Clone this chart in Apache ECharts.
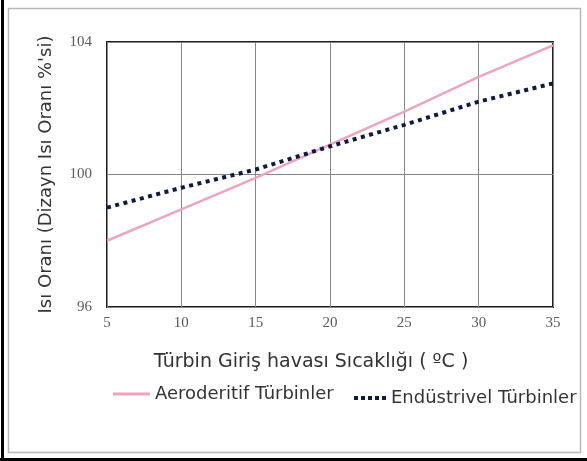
<!DOCTYPE html>
<html>
<head>
<meta charset="utf-8">
<script src="https://cdn.jsdelivr.net/npm/echarts@6/dist/echarts.min.js"></script>
<style>
  html, body { margin: 0; padding: 0; background: #fff; }
  #chart { width: 587px; height: 461px; }
</style>
</head>
<body>
<div id="chart"></div>
<script>
// sıcaklık (°C)
var temps = [5, 10, 15, 20, 25, 30, 35];
// Aeroderitif türbinler
var aeroValues = [98.0, 98.95, 99.9, 100.9, 101.9, 102.95, 103.9];
// Endüstrivel türbinler
var industrialValues = [99.0, 99.6, 100.15, 100.85, 101.5, 102.2, 102.75];
var yTicks = [96, 100, 104];

var aeroName = 'Aeroderitif Türbinler';
var industrialName = 'Endüstrivel Türbinler';

function pairs(xs, ys) {
  return xs.map(function (x, i) { return [x, ys[i]]; });
}

var myChart = echarts.init(document.getElementById('chart'));

var textFont = { fontFamily: 'DejaVu Sans', fontSize: 18, color: '#333' };

var option = {
  backgroundColor: '#fff',
  animation: false,
  grid: {
    left: 107, right: 34, top: 42, bottom: 154,
    show: true, borderColor: '#1e1e1e', borderWidth: 2
  },
  xAxis: {
    type: 'value', min: 5, max: 35, interval: 5,
    name: 'Türbin Giriş havası Sıcaklığı ( ºC )',
    nameLocation: 'middle', nameGap: 46,
    nameTextStyle: {
      fontFamily: 'DejaVu Sans', fontSize: 19, color: '#333',
      padding: [0, 38, 0, 0]
    },
    axisLine: { show: false },
    axisTick: { show: false },
    axisLabel: { fontFamily: 'Liberation Serif', fontSize: 15, color: '#5a5a5a', margin: 9 },
    splitLine: { lineStyle: { color: '#858590', width: 1 } }
  },
  yAxis: {
    type: 'value', min: 96, max: 104, interval: 4,
    name: 'Isı Oranı (Dizayn Isı Oranı %\'si)',
    nameLocation: 'middle', nameGap: 52,
    nameTextStyle: textFont,
    axisLine: { show: false },
    axisTick: { show: false },
    axisLabel: {
      fontFamily: 'Liberation Serif', fontSize: 15, color: '#5a5a5a', margin: 15,
      formatter: function (v) { return yTicks.indexOf(v) >= 0 ? String(v) : ''; }
    },
    splitLine: { lineStyle: { color: '#858590', width: 1 } }
  },
  legend: [
    {
      left: 108, top: 380,
      icon: 'rect', itemWidth: 37, itemHeight: 3, itemGap: 0,
      textStyle: textFont,
      data: [aeroName]
    },
    {
      left: 349, top: 384,
      icon: 'path://M0,0h4v4h-4z M7,0h4v4h-4z M14,0h4v4h-4z M21,0h4v4h-4z M28,0h4v4h-4z',
      itemWidth: 32, itemHeight: 4, itemGap: 0,
      textStyle: textFont,
      data: [industrialName]
    }
  ],
  series: [
    {
      name: aeroName, type: 'line',
      data: pairs(temps, aeroValues),
      showSymbol: false, symbol: 'none',
      lineStyle: { color: '#eba5bd', width: 2.5 },
      itemStyle: { color: '#eba5bd' }
    },
    {
      name: industrialName, type: 'line',
      data: pairs(temps, industrialValues),
      showSymbol: false, symbol: 'none',
      lineStyle: { color: '#101a3e', width: 4, type: [4, 4.5] },
      itemStyle: { color: '#101a3e' }
    }
  ],
  graphic: [
    {
      type: 'rect', silent: true, z: -1,
      shape: { x: 8.5, y: 8.5, width: 572, height: 444 },
      style: { fill: 'none', stroke: '#b8b8b8', lineWidth: 1.5 }
    },
    {
      type: 'line', silent: true,
      shape: { x1: 2.5, y1: 0, x2: 2.5, y2: 461 },
      style: { stroke: '#000', lineWidth: 3 }
    },
    {
      type: 'line', silent: true,
      shape: { x1: 0, y1: 459.5, x2: 587, y2: 459.5 },
      style: { stroke: '#000', lineWidth: 3 }
    }
  ]
};

myChart.setOption(option, true);
</script>
</body>
</html>
